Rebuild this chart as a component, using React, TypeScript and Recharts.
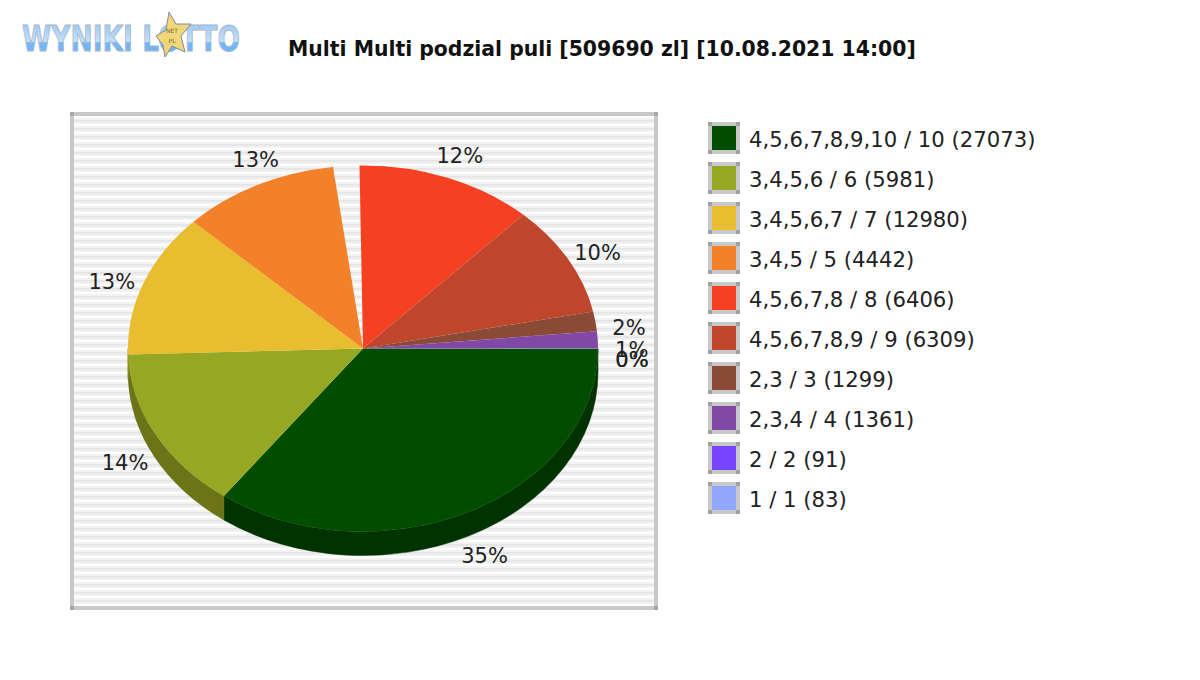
import { Legend, Pie, PieChart } from 'recharts'

const legendLabels = [
  '4,5,6,7,8,9,10 / 10 (27073)',
  '3,4,5,6 / 6 (5981)',
  '3,4,5,6,7 / 7 (12980)',
  '3,4,5 / 5 (4442)',
  '',
  '4,5,6,7,8 / 8 (6406)',
  '4,5,6,7,8,9 / 9 (6309)',
  '2,3 / 3 (1299)',
  '2,3,4 / 4 (1361)',
  '2 / 2 (91)',
  '1 / 1 (83)',
]
// the empty entry is the white notch between the orange and red slices
const shares = [35.1, 14.4, 12.7, 10.8, 1.8, 12.2, 9.8, 1.75, 1.45, 0.03, 0.02]
const percentLabels = ['35%', '14%', '13%', '13%', '', '12%', '10%', '2%', '1%', '0%', '0%']
const colors = ['#004d00', '#96a823', '#e9bd30', '#f2812a', 'none', '#f64022', '#bf462d', '#8b4a36', '#8248a6', '#7744ff', '#92a8ff']
const wallColors = ['#003300', '#6b7518', '#a68722', '#ad5c1c', 'none', '#ae2e18', '#873220', '#633526', '#5c3376', '#5530b5', '#6878b5']

const rows = legendLabels.map((name, i) => ({ name, share: shares[i], fill: colors[i], wall: wallColors[i] }))

const CX = 363
const CY = 348.5
const RX = 235
const RY = 183
const DEPTH = 24

const px = (a: number, rx = RX) => CX + rx * Math.cos((a * Math.PI) / 180)
const py = (a: number, ry = RY) => CY - ry * Math.sin((a * Math.PI) / 180)

function Wedge(props: any) {
  const { startAngle, endAngle, fill } = props
  if (fill === 'none') return null
  const large = Math.abs(endAngle - startAngle) > 180 ? 1 : 0
  const d = `M${CX},${CY} L${px(startAngle)},${py(startAngle)} A${RX},${RY} 0 ${large} 1 ${px(endAngle)},${py(endAngle)} Z`
  return <path d={d} fill={fill} />
}

function Wall(props: any) {
  const { startAngle, endAngle, payload } = props
  const s = Math.min(startAngle, 0)
  const e = Math.max(endAngle, -180)
  if (s <= e || payload.wall === 'none') return null
  const d =
    `M${px(s)},${py(s)} A${RX},${RY} 0 0 1 ${px(e)},${py(e)} ` +
    `L${px(e)},${py(e) + DEPTH} A${RX},${RY} 0 0 0 ${px(s)},${py(s) + DEPTH} Z`
  return <path d={d} fill={payload.wall} stroke={payload.wall} strokeWidth={0.5} />
}

function SliceLabel(props: any) {
  const { midAngle, index } = props
  const text = percentLabels[index]
  if (!text) return null
  // orange label sits over orange plus the notch
  const a = index === 3 ? midAngle - (shares[4] * 3.6) / 2 : midAngle
  return (
    <text
      x={px(a, RX + 34)}
      y={py(a, RY + 36) + 12}
      textAnchor="middle"
      dominantBaseline="central"
      fontFamily="DejaVu Sans"
      fontSize={21}
      fill="#222"
    >
      {text}
    </text>
  )
}

function LegendBox({ payload }: any) {
  // both pies report their rows, keep each one once
  const items = legendLabels
    .filter((name) => name)
    .map((name) => (payload || []).find((p: any) => p.value === name))
    .filter(Boolean)
  return (
    <div>
      {items.map((p: any) => (
        <div key={p.value} style={{ display: 'flex', alignItems: 'center', height: 40 }}>
          <svg width={32} height={32} style={{ marginRight: 9, flex: 'none' }}>
            <rect width={32} height={32} fill="#c8c8c8" />
            <rect width={4} height={4} fill="#a0a0a0" />
            <rect x={28} width={4} height={4} fill="#a0a0a0" />
            <rect y={28} width={4} height={4} fill="#a0a0a0" />
            <rect x={28} y={28} width={4} height={4} fill="#a0a0a0" />
            <rect x={4} y={4} width={24} height={24} fill={p.color} />
          </svg>
          <span style={{ fontFamily: 'DejaVu Sans', fontSize: 21.2, color: '#222', whiteSpace: 'nowrap', position: 'relative', top: 1 }}>{p.value}</span>
        </div>
      ))}
    </div>
  )
}

function Backdrop() {
  const corners = [
    [70, 112],
    [654, 112],
    [70, 606],
    [654, 606],
  ]
  return (
    <svg width={1200} height={680} style={{ position: 'absolute', left: 0, top: 0 }}>
      <defs>
        <pattern id="stripes" width={8} height={8} patternUnits="userSpaceOnUse" y={116}>
          <rect width={8} height={8} fill="#ffffff" />
          <rect y={2} width={8} height={2} fill="#f2f2f2" />
          <rect y={4} width={8} height={2} fill="#e6e6e6" />
          <rect y={6} width={8} height={2} fill="#f2f2f2" />
        </pattern>
        <linearGradient id="logoFill" x1="0" y1="0" x2="0" y2="1">
          <stop offset="0" stopColor="#8fc2f2" />
          <stop offset="0.58" stopColor="#c6e0fa" />
          <stop offset="0.6" stopColor="#74b8fa" />
          <stop offset="1" stopColor="#6cb2f8" />
        </linearGradient>
      </defs>
      <rect x={70} y={112} width={588} height={498} fill="#c8c8c8" />
      <rect x={74} y={116} width={580} height={490} fill="url(#stripes)" />
      {corners.map(([x, y]) => (
        <rect key={x + '-' + y} x={x} y={y} width={4} height={4} fill="#a8a8a8" />
      ))}
      <text
        x={22}
        y={51}
        fontFamily="DejaVu Sans"
        fontWeight="bold"
        fontSize={36}
        textLength={218}
        lengthAdjust="spacingAndGlyphs"
        fill="url(#logoFill)"
        stroke="#aab6c4"
        strokeWidth={1}
      >
        WYNIKI LOTTO
      </text>
      <polygon
        points="169,12 176,24 191,24 181,36 185,52 172,46 165,57 163,45 156,36 166,30"
        fill="#f1d779"
        stroke="#7f8aa0"
        strokeWidth={1}
      />
      <text x={172} y={33} textAnchor="middle" fontFamily="DejaVu Sans" fontSize={6} fill="#7a6a30">
        NET
      </text>
      <text x={172} y={43} textAnchor="middle" fontFamily="DejaVu Sans" fontSize={6} fill="#7a6a30">
        PL
      </text>
      <text x={288} y={55.5} fontFamily="DejaVu Sans" fontWeight="bold" fontSize={20.4} fill="#111">
        Multi Multi podzial puli [509690 zl] [10.08.2021 14:00]
      </text>
    </svg>
  )
}

export default function App() {
  return (
    <div style={{ position: 'absolute', left: 0, top: 0, width: 1200, height: 680, background: '#fff' }}>
      <Backdrop />
      <div style={{ position: 'absolute', left: 0, top: 0 }}>
        <PieChart width={1200} height={680} margin={{ top: 0, right: 0, bottom: 0, left: 0 }}>
          <Pie
            data={rows}
            dataKey="share"
            nameKey="name"
            cx={CX}
            cy={CY}
            outerRadius={RX}
            startAngle={0}
            endAngle={-360}
            legendType="none"
            shape={Wall}
            isAnimationActive={false}
          />
          <Pie
            data={rows}
            dataKey="share"
            nameKey="name"
            cx={CX}
            cy={CY}
            outerRadius={RX}
            startAngle={0}
            endAngle={-360}
            shape={Wedge}
            label={SliceLabel}
            labelLine={false}
            isAnimationActive={false}
          />
          <Legend
            layout="vertical"
            content={<LegendBox />}
            wrapperStyle={{ position: 'absolute', left: 708, top: 118, width: 400 }}
          />
        </PieChart>
      </div>
    </div>
  )
}
